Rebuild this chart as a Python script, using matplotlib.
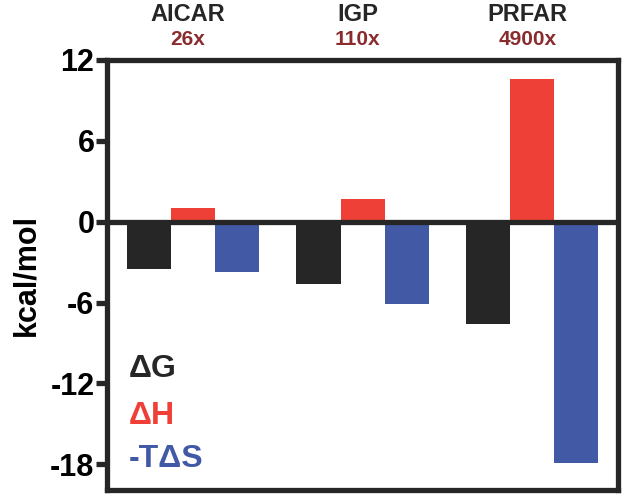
import matplotlib.pyplot as plt
import numpy as np

ligands = ['AICAR', 'IGP', 'PRFAR']
folds = ['26x', '110x', '4900x']
dG = [-3.5, -4.6, -7.6]
dH = [1.0, 1.7, 10.6]
mTdS = [-3.7, -6.1, -17.9]
yticks = [12, 6, 0, -6, -12, -18]

black = '#262626'
red = '#EE4036'
blue = '#4259A6'
darkred = '#8A2B2E'

plt.rcParams['font.family'] = ['Liberation Sans', 'DejaVu Sans']
plt.rcParams['font.weight'] = 'bold'

fig = plt.figure(figsize=(6.29, 5.03), dpi=100)
ax = fig.add_axes([0.170, 0.026, 0.813, 0.855])

x = np.arange(len(ligands))
w = 0.26
ax.bar(x - w, dG, w, color=black)
ax.bar(x, dH, w, color=red)
ax.bar(x + w, mTdS, w, color=blue)

ax.axhline(0, color=black, lw=3.8, zorder=3)
for s in ax.spines.values():
    s.set_linewidth(3.8)
    s.set_color(black)
    s.set_zorder(4)

ax.set_xlim(-0.507, 2.507)
ax.set_ylim(-19.9, 12)
ax.set_xticks([])
ax.set_yticks(yticks)
ax.set_yticklabels([str(t) for t in yticks], fontsize=22, fontweight='bold')
ax.tick_params(axis='y', length=8, width=3.8, color=black, pad=1)
ax.set_ylabel('kcal/mol', fontsize=22, fontweight='bold', labelpad=6)

for i in range(len(ligands)):
    ax.text(x[i] - 0.03, 15.4, ligands[i], ha='center', va='center', fontsize=17,
            fontweight='bold', color=black, clip_on=False)
    ax.text(x[i] - 0.03, 13.5, folds[i], ha='center', va='center', fontsize=15,
            fontweight='bold', color=darkred, clip_on=False)

ax.text(-0.38, -10.9, '\u0394G', fontsize=23, fontweight='bold', color=black, va='center')
ax.text(-0.38, -14.4, '\u0394H', fontsize=23, fontweight='bold', color=red, va='center')
ax.text(-0.38, -17.6, '-T\u0394S', fontsize=23, fontweight='bold', color=blue, va='center')

fig.savefig('out.png', dpi=100)
